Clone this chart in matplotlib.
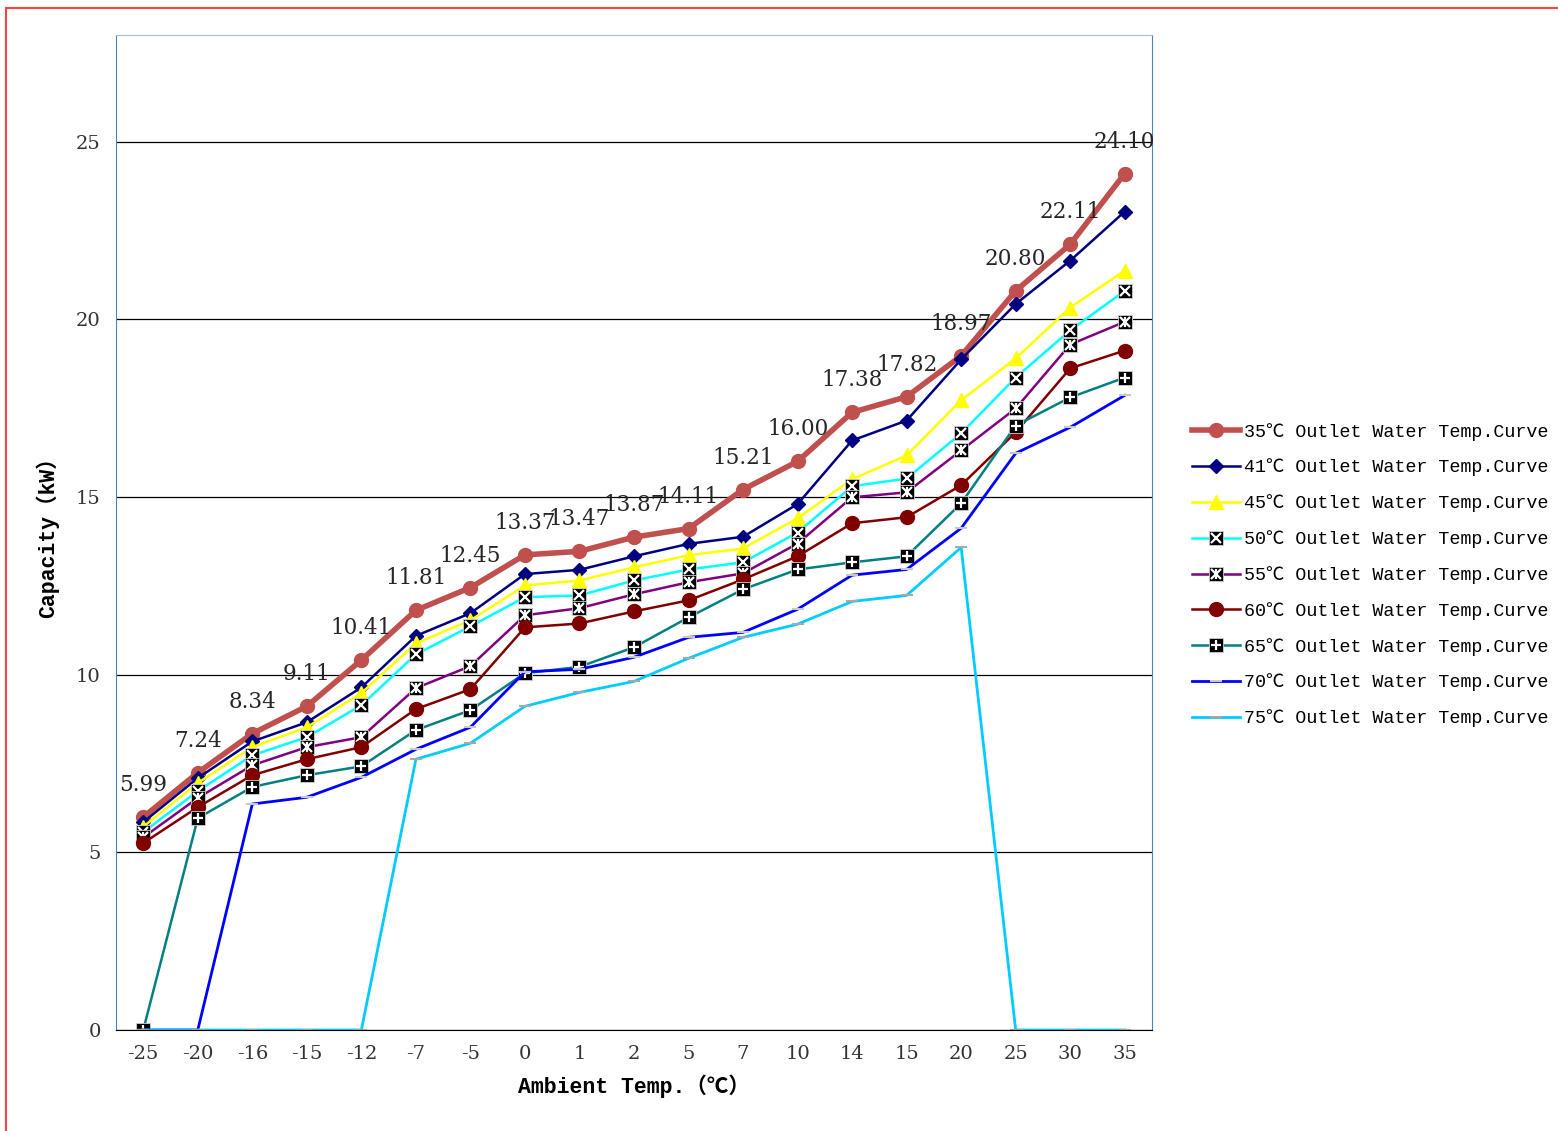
import matplotlib.pyplot as plt
from matplotlib.legend_handler import HandlerTuple
from matplotlib.patches import Rectangle

categories = ["-25", "-20", "-16", "-15", "-12", "-7", "-5", "0", "1", "2",
              "5", "7", "10", "14", "15", "20", "25", "30", "35"]

t35 = [5.99, 7.24, 8.34, 9.11, 10.41, 11.81, 12.45, 13.37, 13.47, 13.87,
       14.11, 15.21, 16.00, 17.38, 17.82, 18.97, 20.80, 22.11, 24.10]
t41 = [5.85, 7.09, 8.12, 8.66, 9.64, 11.09, 11.73, 12.83, 12.95, 13.33,
       13.68, 13.88, 14.80, 16.59, 17.15, 18.87, 20.43, 21.65, 23.03]
t45 = [5.72, 6.95, 7.96, 8.52, 9.48, 10.88, 11.53, 12.51, 12.65, 13.02,
       13.36, 13.55, 14.40, 15.50, 16.17, 17.72, 18.90, 20.33, 21.37]
t50 = [5.57, 6.72, 7.73, 8.24, 9.14, 10.57, 11.36, 12.18, 12.23, 12.65,
       12.96, 13.16, 14.00, 15.30, 15.52, 16.79, 18.36, 19.69, 20.80]
t55 = [5.42, 6.53, 7.45, 7.96, 8.24, 9.62, 10.24, 11.67, 11.87, 12.26,
       12.60, 12.85, 13.69, 14.99, 15.13, 16.31, 17.49, 19.29, 19.93]
t60 = [5.26, 6.27, 7.17, 7.62, 7.96, 9.03, 9.59, 11.33, 11.44, 11.78,
       12.09, 12.68, 13.33, 14.26, 14.43, 15.33, 16.82, 18.62, 19.12]
t65 = [0.00, 5.96, 6.84, 7.17, 7.42, 8.44, 9.00, 10.04, 10.22, 10.77,
       11.61, 12.40, 12.96, 13.16, 13.33, 14.82, 17.01, 17.80, 18.36]
t70 = [0.00, 0.00, 6.36, 6.55, 7.11, 7.90, 8.52, 10.08, 10.15, 10.49,
       11.05, 11.19, 11.84, 12.80, 12.96, 14.12, 16.23, 16.96, 17.86]
t75 = [0.00, 0.00, 0.00, 0.00, 0.00, 7.62, 8.07, 9.11, 9.50, 9.81,
       10.46, 11.05, 11.42, 12.06, 12.23, 13.58, 0.00, 0.00, 0.00]

series_names = ["35", "41", "45", "50", "55", "60", "65", "70", "75"]

mono = ["Liberation Mono", "Noto Sans CJK SC", "DejaVu Sans"]
serif = ["DejaVu Serif"]

fig = plt.figure(figsize=(15.58, 11.31), dpi=100)
ax = fig.add_axes([116 / 1558, 1 - 1030 / 1131, (1152 - 116) / 1558, (1030 - 35) / 1131])

x = list(range(len(categories)))
handles = []

# 35 - thick red with circles
h, = ax.plot(x, t35, color="#C0504D", lw=4, marker="o", ms=10, mfc="#C0504D", mec="#C0504D")
handles.append(h)
# 41 - navy diamonds
h, = ax.plot(x, t41, color="#000080", lw=1.8, marker="D", ms=7, mfc="#000080", mec="#000080")
handles.append(h)
# 45 - yellow triangles
h, = ax.plot(x, t45, color="#FFFF00", lw=1.8, marker="^", ms=10, mfc="#FFFF00", mec="#FFFF00")
handles.append(h)


def boxed(vals, color, glyphs):
    base, = ax.plot(x, vals, color=color, lw=1.8, marker="s", ms=10, mfc="black", mec="#D0D0D0", mew=0.6)
    parts = [base]
    for g in glyphs:
        over, = ax.plot(x, vals, ls="none", marker=g, ms=7, mec="white", mew=1.6)
        parts.append(over)
    return tuple(parts)


handles.append(boxed(t50, "#00FFFF", ["x"]))
handles.append(boxed(t55, "#800080", ["x", "|"]))

# 60 - dark red circles
h, = ax.plot(x, t60, color="#800000", lw=1.8, marker="o", ms=10, mfc="#800000", mec="#800000")
handles.append(h)

handles.append(boxed(t65, "#008080", ["+"]))

# 70 / 75 - plain lines with small grey dash markers
h, = ax.plot(x, t70, color="#0000FF", lw=2, marker="_", ms=8, mec="#C8C8C8", mew=1.5)
handles.append(h)
h, = ax.plot(x, t75, color="#00CCFF", lw=2, marker="_", ms=8, mec="#A8A8A8", mew=1.5)
handles.append(h)

# data labels on the 35 curve
for xi, v in zip(x, t35):
    ax.annotate(f"{v:.2f}", (xi, v), xytext=(0, 23), textcoords="offset points",
                ha="center", va="center", fontsize=15.5, family=serif, color="#262626")

ax.set_xlim(-0.5, len(categories) - 0.5)
ax.set_ylim(0, 28)
ax.set_xticks(x)
ax.set_xticklabels(categories, family=serif, fontsize=14, color="#333333")
ax.set_yticks([0, 5, 10, 15, 20, 25])
ax.set_yticklabels(["0", "5", "10", "15", "20", "25"], family=serif, fontsize=14, color="#333333")
ax.tick_params(length=0, pad=11)
ax.yaxis.grid(True, color="black", lw=0.9)
ax.set_axisbelow(True)

for side in ["left", "right"]:
    ax.spines[side].set_color("#4F81BD")
ax.spines["top"].set_color("#A6BCDB")
ax.spines["bottom"].set_color("black")

ax.set_ylabel("Capacity（kW）", family=mono, fontsize=15.5, fontweight="bold", labelpad=12)
ax.set_xlabel("Ambient Temp.（℃）", family=mono, fontsize=15.5, fontweight="bold", labelpad=8)

labels = [f"{n}℃ Outlet Water Temp.Curve" for n in series_names]
fig.legend(handles, labels, loc="center left", bbox_to_anchor=(1183 / 1558, 1 - 575 / 1131),
           frameon=False, prop={"family": mono, "size": 13.2}, handlelength=2.6,
           handletextpad=0.2, labelspacing=0.98, borderpad=0,
           handler_map={tuple: HandlerTuple(ndivide=1, pad=0)})

# red outer frame
fig.patches.append(Rectangle((6 / 1558, -0.05), 1.2, 1 - 8 / 1131 + 0.05, transform=fig.transFigure,
                             fill=False, edgecolor="#FF4040", lw=1.5))

fig.savefig("out.png", dpi=100)
